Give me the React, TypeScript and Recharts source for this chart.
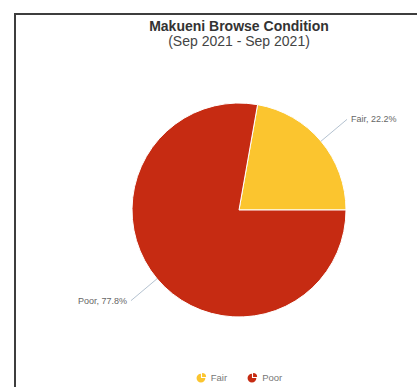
import { PieChart, Pie, Cell, Legend } from "recharts";

const conditions = ["Fair", "Poor"];
const counts = [2, 7];
const colors = ["#fbc52f", "#c62b12"];
const chartTitle = "Makueni Browse Condition";
const chartPeriod = "(Sep 2021 - Sep 2021)";

const data = conditions.map((name, i) => ({ name, value: counts[i] }));

const RAD = Math.PI / 180;
const FONT = "'Liberation Sans', Arial, sans-serif";

function renderLabel(props: any) {
  const { cx, cy, midAngle, outerRadius, percent, name } = props;
  const r = outerRadius + 34;
  const x = cx + r * Math.cos(-midAngle * RAD);
  const y = cy + r * Math.sin(-midAngle * RAD);
  const right = x > cx;
  return (
    <text
      x={right ? x + 4 : x - 4}
      y={y}
      textAnchor={right ? "start" : "end"}
      dominantBaseline="central"
      fontSize={9}
      fontFamily={FONT}
      fill="#666"
    >
      {`${name}, ${(percent * 100).toFixed(1)}%`}
    </text>
  );
}

function renderLine(props: any) {
  const { cx, cy, midAngle, outerRadius } = props;
  const cos = Math.cos(-midAngle * RAD);
  const sin = Math.sin(-midAngle * RAD);
  const r2 = outerRadius + 34;
  return (
    <path
      d={`M${cx + outerRadius * cos},${cy + outerRadius * sin}L${cx + r2 * cos},${cy + r2 * sin}`}
      stroke="#b4c2d0"
      strokeWidth={1}
      fill="none"
    />
  );
}

function PieIcon({ color }: { color: string }) {
  return (
    <svg width={11} height={11} viewBox="0 0 10 10" style={{ marginRight: 4 }}>
      <path d="M4.5,5.5 L4.5,1.5 A4,4 0 1 0 8.5,5.5 Z" fill={color} />
      <path d="M5.5,4.5 L5.5,0.8 A3.7,3.7 0 0 1 9.2,4.5 Z" fill={color} />
    </svg>
  );
}

function renderLegend() {
  return (
    <div style={{ display: "flex", justifyContent: "center", fontFamily: FONT, fontSize: 9.5, color: "#777" }}>
      {conditions.map((name, i) => (
        <div key={name} style={{ display: "flex", alignItems: "center", margin: "0 10px" }}>
          <PieIcon color={colors[i]} />
          <span>{name}</span>
        </div>
      ))}
    </div>
  );
}

export default function App() {
  return (
    <div
      style={{
        position: "absolute",
        left: 0,
        top: 0,
        width: 417,
        height: 387,
        overflow: "hidden",
        background: "#fff",
        fontFamily: FONT,
      }}
    >
      <div
        style={{
          position: "absolute",
          left: 14,
          top: 13,
          width: 600,
          height: 600,
          borderTop: "2px solid #3d3d3d",
          borderLeft: "2px solid #3d3d3d",
        }}
      />
      <div
        style={{
          position: "absolute",
          left: 0,
          top: 19,
          width: 478,
          textAlign: "center",
          fontSize: 14,
          lineHeight: "14px",
          fontWeight: "bold",
          color: "#333",
        }}
      >
        {chartTitle}
      </div>
      <div
        style={{
          position: "absolute",
          left: 0,
          top: 34,
          width: 478,
          textAlign: "center",
          fontSize: 14,
          lineHeight: "14px",
          color: "#444",
        }}
      >
        {chartPeriod}
      </div>
      <div style={{ position: "absolute", left: 0, top: 0 }}>
        <PieChart width={478} height={387} margin={{ top: 0, right: 0, bottom: 0, left: 0 }}>
          <Pie
            data={data}
            dataKey="value"
            nameKey="name"
            cx={239}
            cy={210}
            outerRadius={107}
            startAngle={0}
            endAngle={360}
            stroke="#fff"
            strokeWidth={1}
            label={renderLabel}
            labelLine={renderLine}
            isAnimationActive={false}
          >
            {data.map((d, i) => (
              <Cell key={d.name} fill={colors[i]} />
            ))}
          </Pie>
          <Legend content={renderLegend} wrapperStyle={{ left: 0, top: 372, width: 478 }} />
        </PieChart>
      </div>
    </div>
  );
}
